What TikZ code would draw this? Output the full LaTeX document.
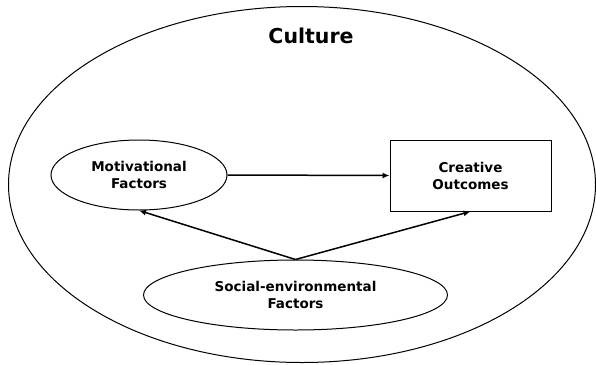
\documentclass[tikz,border=0pt]{standalone}
\usepackage{fontspec}
\setmainfont{DejaVu Sans}
\usepackage{tikz}
\usetikzlibrary{positioning,arrows.meta,shapes}

\begin{document}
\begin{tikzpicture}[x=1pt,y=-1pt,
	line width=1pt,
	factor/.style={draw,ellipse,inner sep=0pt,align=center,font=\fontsize{13.5}{17}\bfseries\selectfont},
	outcome/.style={draw,rectangle,inner sep=0pt,align=center,font=\fontsize{13.5}{17}\bfseries\selectfont},
	influence/.style={line width=1.5pt,-{Latex[length=7pt,width=6pt]}}]
	\useasboundingbox (0,0) rectangle (596,364);
	% outer frame
	\node[draw,ellipse,minimum width=587pt,minimum height=356pt,inner sep=0pt] (culture) at (302,184.5) {};
	\node[font=\fontsize{20.5}{24}\bfseries\selectfont] (culturelabel) at (311,36) {Culture};
	% inner nodes
	\node[factor,minimum width=176pt,minimum height=70pt] (motiv) at (139,175) {Motivational\\Factors};
	\node[outcome,minimum width=161pt,minimum height=71pt] (outcome) at (470.5,175.5) {Creative\\Outcomes};
	\node[factor,minimum width=304pt,minimum height=70pt] (social) at (295.5,295) {Social-environmental\\Factors};
	% links
	\draw[influence] (motiv.east) -- (outcome.west);
	\draw[influence] (social.north) -- (motiv.south);
	\draw[influence] (social.north) -- (outcome.south);
\end{tikzpicture}
\end{document}
